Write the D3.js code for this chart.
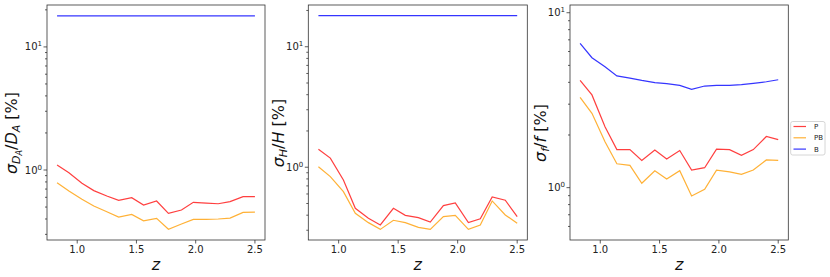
<!DOCTYPE html>
<html><head><meta charset="utf-8">
<script src="https://cdn.jsdelivr.net/npm/d3@7"></script>
<style>
body{margin:0;background:#fff;}
svg{font-family:"DejaVu Sans",sans-serif;}
</style></head>
<body><svg id="c" width="830" height="277"></svg>
<script>
const z = [0.83,0.93,1.04,1.14,1.25,1.35,1.46,1.56,1.67,1.77,1.88,1.98,2.09,2.19,2.29,2.40,2.50];
const seriesNames = ["P","PB","B"];
const seriesColors = ["#ff2a2a","#ffa820","#1f1fff"];
const dA_P  = [1.10,0.95,0.78,0.68,0.615,0.567,0.596,0.519,0.56,0.444,0.473,0.546,0.539,0.532,0.553,0.607,0.607];
const dA_PB = [0.789,0.675,0.578,0.51,0.458,0.415,0.436,0.387,0.405,0.33,0.364,0.397,0.397,0.40,0.407,0.453,0.455];
const dA_B  = [17.9,17.9,17.9,17.9,17.9,17.9,17.9,17.9,17.9,17.9,17.9,17.9,17.9,17.9,17.9,17.9,17.9];
const H_P   = [1.41,1.19,0.785,0.456,0.377,0.332,0.456,0.399,0.382,0.351,0.48,0.505,0.347,0.374,0.567,0.532,0.389];
const H_PB  = [1.01,0.836,0.628,0.415,0.347,0.305,0.363,0.347,0.317,0.305,0.389,0.399,0.305,0.332,0.525,0.402,0.343];
const H_B   = [18.1,18.1,18.1,18.1,18.1,18.1,18.1,18.1,18.1,18.1,18.1,18.1,18.1,18.1,18.1,18.1,18.1];
const f_P   = [4.10,3.39,2.23,1.65,1.65,1.43,1.64,1.46,1.63,1.26,1.30,1.66,1.65,1.53,1.65,1.96,1.88];
const f_PB  = [3.28,2.66,1.83,1.37,1.34,1.06,1.25,1.12,1.25,0.896,0.978,1.26,1.23,1.19,1.26,1.44,1.43];
const f_B   = [6.68,5.53,4.91,4.35,4.23,4.10,3.98,3.93,3.84,3.65,3.81,3.84,3.84,3.88,3.95,4.03,4.14];
const xTicks = [1.0,1.5,2.0,2.5];
const xTickLabels = ["1.0","1.5","2.0","2.5"];
const yMajor = [1,10];

const svg = d3.select("#c");
const panels = [
  {x0:47, x1:265, ylim:[0.27,21.9], data:[dA_P,dA_PB,dA_B], lab:"DA", lx:17},
  {x0:308.3, x1:527.3, ylim:[0.249,22.2], data:[H_P,H_PB,H_B], lab:"H", lx:284},
  {x0:570, x1:788.3, ylim:[0.502,11.07], data:[f_P,f_PB,f_B], lab:"f", lx:546}
];
const plotTop=5, plotBot=240;
const axisCol="#333";

panels.forEach((p,i)=>{
  const x = d3.scaleLinear().domain([0.745,2.585]).range([p.x0,p.x1]);
  const y = d3.scaleLog().domain(p.ylim).range([plotBot,plotTop]);
  const g = svg.append("g");
  const minors=[];
  for(let d=-1; d<=1; d++) for(let m=2;m<=9;m++){const v=m*Math.pow(10,d); if(v>=p.ylim[0]&&v<=p.ylim[1]) minors.push(v);}
  g.selectAll(".mn").data(minors).enter().append("line")
    .attr("x1",p.x0-2).attr("x2",p.x0).attr("y1",d=>y(d)).attr("y2",d=>y(d))
    .attr("stroke",axisCol).attr("stroke-width",0.8);
  g.selectAll(".mj").data(yMajor).enter().append("line")
    .attr("x1",p.x0-3.5).attr("x2",p.x0).attr("y1",d=>y(d)).attr("y2",d=>y(d))
    .attr("stroke",axisCol).attr("stroke-width",0.8);
  const yl = g.selectAll(".yl").data(yMajor).enter().append("text")
    .attr("x",p.x0-5).attr("y",d=>y(d)+3.5).attr("text-anchor","end")
    .attr("font-size",10).attr("fill","#222");
  yl.append("tspan").text("10");
  yl.append("tspan").attr("dy",-4).attr("font-size",7).text(d=>d===1?"0":"1");
  g.selectAll(".xt").data(xTicks).enter().append("line")
    .attr("x1",d=>x(d)).attr("x2",d=>x(d)).attr("y1",plotBot).attr("y2",plotBot+3.5)
    .attr("stroke",axisCol).attr("stroke-width",0.8);
  g.selectAll(".xl").data(xTicks).enter().append("text")
    .attr("x",d=>x(d)).attr("y",plotBot+13).attr("text-anchor","middle")
    .attr("font-size",10).attr("fill","#222").text((d,k)=>xTickLabels[k]);
  const line = d3.line().x((d,k)=>x(z[k])).y(d=>y(d));
  p.data.forEach((s,k)=>{
    g.append("path").datum(s).attr("d",line).attr("fill","none")
      .attr("stroke",seriesColors[k]).attr("stroke-width",1.2).attr("stroke-opacity",0.9);
  });
  g.append("rect").attr("x",p.x0).attr("y",plotTop).attr("width",p.x1-p.x0).attr("height",plotBot-plotTop)
    .attr("fill","none").attr("stroke",axisCol).attr("stroke-width",0.8);
  g.append("text").attr("x",(p.x0+p.x1)/2).attr("y",270).attr("text-anchor","middle")
    .attr("font-size",16).attr("font-style","italic").attr("fill","#111").text("z");
  const t = g.append("text").attr("transform",`translate(${p.lx},133) rotate(-90)`)
    .attr("text-anchor","middle").attr("font-size",16).attr("fill","#111");
  t.append("tspan").attr("font-style","italic").text("σ");
  if(p.lab==="DA"){
    t.append("tspan").attr("font-style","italic").attr("font-size",11).attr("dy",3).text("D");
    t.append("tspan").attr("font-style","italic").attr("font-size",8).attr("dy",2).text("A");
    t.append("tspan").attr("dy",-5).text("/");
    t.append("tspan").attr("font-style","italic").text("D");
    t.append("tspan").attr("font-style","italic").attr("font-size",11).attr("dy",3).text("A");
    t.append("tspan").attr("dy",-3).text(" [%]");
  } else if(p.lab==="H"){
    t.append("tspan").attr("font-style","italic").attr("font-size",11).attr("dy",3).text("H");
    t.append("tspan").attr("dy",-3).text("/");
    t.append("tspan").attr("font-style","italic").text("H");
    t.append("tspan").text(" [%]");
  } else {
    t.append("tspan").attr("font-style","italic").attr("font-size",11).attr("dy",3).text("f");
    t.append("tspan").attr("dy",-3).text("/");
    t.append("tspan").attr("font-style","italic").text("f");
    t.append("tspan").text(" [%]");
  }
});

const lg = svg.append("g");
lg.append("rect").attr("x",790.7).attr("y",121.5).attr("width",34.3).attr("height",33.5)
  .attr("rx",2).attr("fill","#fff").attr("stroke","#ccc").attr("stroke-width",0.8);
seriesNames.forEach((n,k)=>{
  const yy = 126.5 + k*11.3;
  lg.append("line").attr("x1",793.5).attr("x2",806).attr("y1",yy).attr("y2",yy)
    .attr("stroke",seriesColors[k]).attr("stroke-width",1.2).attr("stroke-opacity",0.9);
  lg.append("text").attr("x",814).attr("y",yy+2.5).attr("font-size",7).attr("fill","#222").text(n);
});
</script></body></html>
